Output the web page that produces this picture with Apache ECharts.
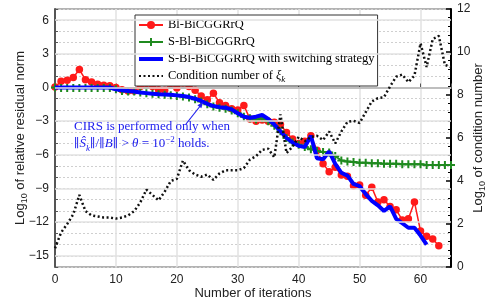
<!DOCTYPE html>
<html>
<head>
<meta charset="utf-8">
<script src="https://cdn.jsdelivr.net/npm/echarts@6/dist/echarts.min.js"></script>
<style>
html, body {margin: 0; padding: 0; background: #fff;}
#chart {width: 486px; height: 303px;}
</style>
</head>
<body>
<div id="chart"></div>
<script>
// log10 relative residual norm, one value per iteration (starting at 0)
var blRes = [0.05, 0.55, 0.65, 0.9, 1.6, 0.7, 0.5, 0.3, 0.2, 0.15,
    0.0, -0.2, -0.3, -0.3, 0.1, 0.35, 0.1, -0.2, -0.25, 0.35,
    -0.05, 0.4, 0.1, -0.25, -0.75, -1.1, -0.5, -1.35, -1.6, -1.9,
    -2.0, -1.6, -2.8, -3.0, -2.9, -3.0, -3.1, -3.3, -4.0, -4.6,
    -5.0, -4.8, -4.3, -5.6, -6.8, -7.5, -7.1, -7.8, -7.9, -8.75,
    -8.7, -9.6, -8.9, -10.2, -10.0, -10.6, -10.9, -11.8, -11.7, -10.2,
    -12.8, -13.25, -13.5, -14.1];
var sblRes = [0, -0.05, -0.05, -0.05, -0.05, -0.05, -0.05, -0.05, -0.05, -0.05,
    -0.15, -0.3, -0.35, -0.35, -0.45, -0.5, -0.55, -0.6, -0.65, -0.7,
    -0.75, -0.8, -0.9, -1.05, -1.25, -1.5, -1.7, -1.8, -1.9, -2.05,
    -2.3, -2.6, -2.75, -2.85, -2.75, -3.0, -3.4, -3.9, -4.5, -4.9,
    -5.1, -5.3, -5.5, -5.65, -5.75, -5.8, -6.1, -6.5, -6.6, -6.65,
    -6.7, -6.7, -6.75, -6.75, -6.8, -6.8, -6.8, -6.85, -6.85, -6.85,
    -6.85, -6.9, -6.9, -6.9, -6.9, -6.9];
var switchRes = [0, 0, 0, 0, 0, 0, 0, 0, 0, 0,
    -0.15, -0.25, -0.3, -0.35, -0.45, -0.5, -0.55, -0.6, -0.62, -0.65,
    -0.7, -0.75, -0.85, -1.0, -1.2, -1.45, -1.65, -1.75, -1.8, -1.95,
    -2.3, -2.6, -2.7, -2.6, -2.45, -2.8, -3.3, -3.9, -4.5, -4.9,
    -5.2, -5.3, -4.3, -6.3, -6.4, -5.7, -6.8, -7.6, -7.85, -8.6,
    -8.8, -9.5, -10.1, -10.5, -11.0, -10.6, -11.7, -12.1, -12.5, -12.5,
    -13.2, -14.0];
// log10 of condition number of xi_k
var condNum = [0.87, 1.6, 2.0, 2.45, 3.35, 2.6, 2.4, 2.35, 2.3, 2.3,
    2.25, 2.3, 2.4, 2.6, 3.0, 3.6, 3.35, 3.1, 3.5, 4.0,
    4.1, 4.95, 4.5, 4.3, 4.2, 4.3, 4.05, 4.35, 4.5, 4.5,
    4.5, 4.6, 5.0, 5.15, 5.45, 5.5, 5.1, 7.1, 5.3, 5.6,
    6.05, 5.85, 6.05, 6.1, 5.9, 6.3, 5.75, 6.3, 6.75, 6.8,
    6.7, 7.2, 7.7, 7.85, 7.9, 8.4, 8.85, 8.95, 8.6, 8.9,
    10.4, 9.3, 10.6, 10.75, 9.4, 9.3];

var majorLeft = [-15, -12, -9, -6, -3, 0, 3, 6];
var names = ['Bl-BiCGGRrQ', 'S-Bl-BiCGGRrQ', 'S-Bl-BiCGGRrQ with switching strategy', 'Condition number of ξk'];

function pairs(arr) {
    var out = [];
    for (var i = 0; i < arr.length; i++) {
        out.push([i, arr[i]]);
    }
    return out;
}

var serif = 'Liberation Serif';
var sans = 'Liberation Sans';
var plus = 'path://M3,0H5V3H8V5H5V8H3V5H0V3H3Z';
var noteBlue = '#2222ee';

var subName = {
    a: {fontFamily: sans, fontSize: 13, color: '#222', lineHeight: 18},
    s: {fontFamily: sans, fontSize: 9, color: '#222', lineHeight: 9, verticalAlign: 'bottom'}
};

var chart = echarts.init(document.getElementById('chart'));
chart.setOption({
    animation: false,
    grid: {
        left: 55, right: 35, top: 9, bottom: 36,
        outerBoundsMode: 'none',
        show: true, borderColor: '#666', borderWidth: 1
    },
    legend: {
        orient: 'vertical',
        left: 135, top: 15,
        data: [
            {name: names[0]},
            {name: names[1]},
            {name: names[2], itemStyle: {opacity: 0}, lineStyle: {width: 4}},
            {name: names[3], itemStyle: {opacity: 0}}
        ],
        backgroundColor: '#fff',
        borderColor: '#333',
        borderWidth: 1,
        borderRadius: 0,
        padding: [2, 3, 2, 2],
        itemGap: 1,
        itemWidth: 24,
        itemHeight: 10,
        textStyle: {
            fontFamily: serif, fontSize: 12.5, color: '#000', lineHeight: 14,
            rich: {
                t: {fontFamily: serif, fontSize: 12.5, color: '#000', lineHeight: 16},
                i: {fontFamily: serif, fontStyle: 'italic', fontSize: 12.5, color: '#000', lineHeight: 16},
                k: {fontFamily: serif, fontStyle: 'italic', fontSize: 9, color: '#000', lineHeight: 9, verticalAlign: 'bottom'}
            }
        },
        formatter: function (name) {
            if (name === names[3]) {
                return '{t|Condition number of }{i|ξ}{k|k}';
            }
            return '{t|' + name + '}';
        }
    },
    xAxis: {
        type: 'value',
        min: 0, max: 65, interval: 10,
        name: 'Number of iterations',
        nameLocation: 'middle',
        nameGap: 20,
        nameMoveOverlap: false,
        nameTextStyle: {fontFamily: sans, fontSize: 13, color: '#222'},
        axisLine: {lineStyle: {color: '#555', width: 2}},
        axisTick: {inside: true, length: 4, lineStyle: {color: '#555'}},
        axisLabel: {
            fontFamily: sans, fontSize: 12, color: '#222', margin: 7,
            formatter: function (v) { return v % 10 === 0 ? String(v) : ''; }
        },
        splitLine: {lineStyle: {color: '#e2e2e2', width: 1.5}}
    },
    yAxis: [
        {
            type: 'value',
            min: -16, max: 7, interval: 1,
            name: '{a|Log}{s|10}{a| of relative residual norm}',
            nameLocation: 'middle',
            nameRotate: 90,
            nameGap: 26,
            nameMoveOverlap: false,
            nameTextStyle: {rich: subName},
            axisLine: {lineStyle: {color: '#555', width: 2}},
            axisTick: {inside: true, length: 3, lineStyle: {color: '#555'}},
            axisLabel: {
                fontFamily: sans, fontSize: 12, color: '#222', margin: 6,
                formatter: function (v) {
                    return v % 3 === 0 ? String(v).replace('-', '\u2212') : '';
                }
            },
            splitLine: {lineStyle: {color: '#cfcfcf', width: 1, type: [2, 2]}}
        },
        {
            type: 'value',
            position: 'right',
            min: 0, max: 12, interval: 2,
            name: '{a|Log}{s|10}{a| of condition number}',
            nameLocation: 'middle',
            nameRotate: 90,
            nameGap: 18,
            nameMoveOverlap: false,
            nameTextStyle: {rich: subName},
            axisLine: {show: true, lineStyle: {color: '#000', width: 2}},
            axisTick: {show: true, inside: true, length: 5, lineStyle: {color: '#000', width: 1.5}},
            minorTick: {show: true, splitNumber: 5, length: 3, lineStyle: {color: '#000'}},
            axisLabel: {fontFamily: sans, fontSize: 12, color: '#222', margin: 6},
            splitLine: {show: false}
        }
    ],
    graphic: [
        {
            type: 'text', left: 74, top: 120, z: 50,
            style: {text: 'CIRS is performed only when', font: '13px "Liberation Serif"', fill: noteBlue}
        },
        {
            type: 'text', left: 74, top: 135, z: 50,
            style: {
                text: '{d|\u2225}{i|Ŝ}{k|k}{d|\u2225}{n|/}{d|\u2225}{i|B}{d|\u2225}{n| > }{i|θ}{n| = 10}{p|−2}{n| holds.}',
                rich: {
                    n: {fontFamily: serif, fontSize: 13, fill: noteBlue, lineHeight: 18},
                    d: {fontFamily: 'DejaVu Serif', fontSize: 12, fill: noteBlue, lineHeight: 18},
                    i: {fontFamily: serif, fontStyle: 'italic', fontSize: 13, fill: noteBlue, lineHeight: 18},
                    k: {fontFamily: serif, fontStyle: 'italic', fontSize: 9, fill: noteBlue, lineHeight: 9, verticalAlign: 'bottom'},
                    p: {fontFamily: serif, fontSize: 9, fill: noteBlue, lineHeight: 9, verticalAlign: 'top'}
                }
            }
        },
        {
            type: 'line', z: 50,
            shape: {x1: 186, y1: 124, x2: 201, y2: 105},
            style: {stroke: noteBlue, lineWidth: 1.2}
        },
        {
            type: 'polygon', z: 50,
            shape: {points: [[203, 102], [201.4, 108.3], [197.4, 105.3]]},
            style: {fill: noteBlue}
        }
    ],
    series: [
        {
            type: 'line',
            data: [],
            z: 1,
            silent: true,
            markLine: {
                silent: true,
                symbol: 'none',
                label: {show: false},
                lineStyle: {color: '#e2e2e2', width: 1.5, type: 'solid'},
                data: majorLeft.map(function (v) { return {yAxis: v}; })
            }
        },
        {
            name: names[0],
            type: 'line',
            z: 2,
            data: pairs(blRes),
            symbol: 'circle',
            symbolSize: 7.5,
            itemStyle: {color: '#ff1a1a'},
            lineStyle: {color: '#ff1a1a', width: 1.5}
        },
        {
            name: names[1],
            type: 'line',
            z: 3,
            data: pairs(sblRes),
            symbol: plus,
            symbolSize: 8,
            itemStyle: {color: '#1f8a1f'},
            lineStyle: {color: '#1f8a1f', width: 2}
        },
        {
            name: names[2],
            type: 'line',
            z: 4,
            data: pairs(switchRes),
            symbol: 'none',
            itemStyle: {color: '#0000ff'},
            lineStyle: {color: '#0000ff', width: 4}
        },
        {
            name: names[3],
            type: 'line',
            z: 5,
            yAxisIndex: 1,
            data: pairs(condNum),
            symbol: 'none',
            itemStyle: {color: '#111'},
            lineStyle: {color: '#111', width: 2.5, type: [2, 2.5]}
        }
    ]
});
</script>
</body>
</html>
